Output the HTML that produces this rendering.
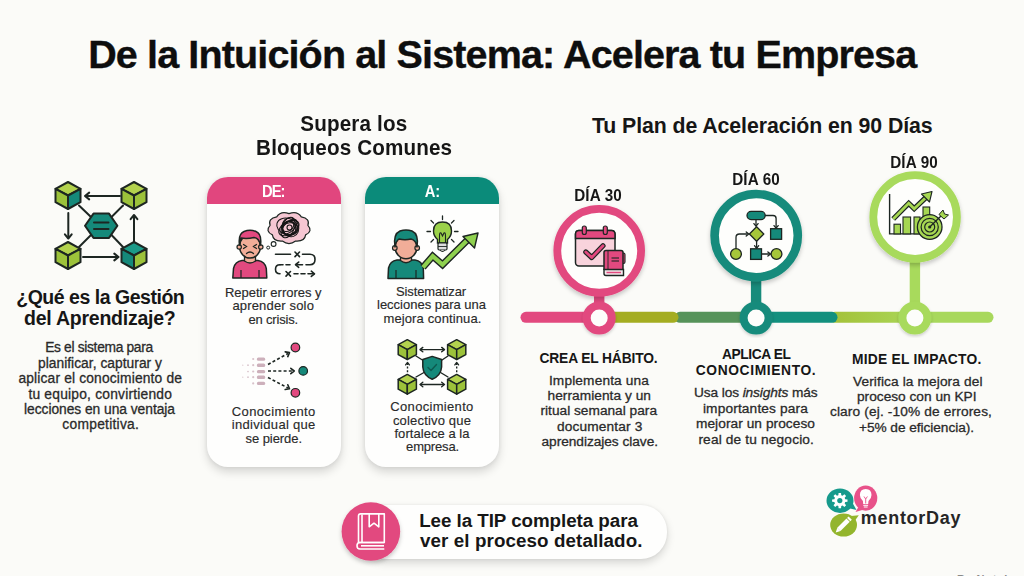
<!DOCTYPE html>
<html><head><meta charset="utf-8">
<style>
html,body{margin:0;padding:0;}
body{width:1024px;height:576px;overflow:hidden;background:#fbfbf8;position:relative;font-family:"Liberation Sans",sans-serif;}
.tx{position:absolute;width:1000px;text-align:center;white-space:nowrap;}
.tx i{font-style:italic;}
.card{position:absolute;top:177px;width:134px;height:290px;border-radius:21px;background:#fefefd;box-shadow:0 5px 10px rgba(0,0,0,0.15),0 0 4px rgba(0,0,0,0.07);overflow:hidden;}
.card .hd{height:27px;}
.pill{position:absolute;left:360px;top:504.5px;width:307px;height:54px;border-radius:26px;background:#fefefd;box-shadow:0 4px 9px rgba(0,0,0,0.15),0 0 3px rgba(0,0,0,0.07);}
svg.ic{position:absolute;left:0;top:0;}
</style></head><body>
<div class="card" style="left:207px"><div class="hd" style="background:#e1467e"></div></div>
<div class="card" style="left:365px"><div class="hd" style="background:#0b8b7a"></div></div>
<div class="pill"></div>
<svg class="ic" width="1024" height="576" viewBox="0 0 1024 576">
<defs><filter id="sh" x="-30%" y="-30%" width="160%" height="160%"><feDropShadow dx="0" dy="2.5" stdDeviation="2.2" flood-color="#000" flood-opacity="0.22"/></filter><filter id="sh2" x="-30%" y="-30%" width="160%" height="160%"><feDropShadow dx="0" dy="1.5" stdDeviation="1.5" flood-color="#000" flood-opacity="0.2"/></filter><linearGradient id="lg1" gradientUnits="userSpaceOnUse" x1="835" y1="0" x2="905" y2="0"><stop offset="0" stop-color="#a4c23a"/><stop offset="1" stop-color="#a9d454"/></linearGradient></defs>
<g stroke="#1d2622" stroke-width="2" fill="none" stroke-linecap="round"><line x1="79" y1="205.5" x2="91" y2="217"/><line x1="123" y1="205.5" x2="111.5" y2="217"/><line x1="79" y1="247" x2="91" y2="235"/><line x1="123" y1="247" x2="111.5" y2="235"/><line x1="120" y1="196" x2="86" y2="196"/><line x1="68.3" y1="213" x2="68.3" y2="237"/><line x1="83" y1="257" x2="117" y2="257"/><line x1="134" y1="242.5" x2="134" y2="217"/></g>
<polyline points="89.2,199.4 85.0,196.0 89.2,192.6" fill="none" stroke="#1d2622" stroke-width="2" stroke-linecap="round" stroke-linejoin="round"/>
<polyline points="71.7,234.3 68.3,238.5 64.9,234.3" fill="none" stroke="#1d2622" stroke-width="2" stroke-linecap="round" stroke-linejoin="round"/>
<polyline points="114.3,253.6 118.5,257.0 114.3,260.4" fill="none" stroke="#1d2622" stroke-width="2" stroke-linecap="round" stroke-linejoin="round"/>
<polyline points="130.6,219.2 134.0,215.0 137.4,219.2" fill="none" stroke="#1d2622" stroke-width="2" stroke-linecap="round" stroke-linejoin="round"/>
<g stroke="#1d2622" stroke-width="2" stroke-linejoin="round"><polygon points="68.0,182.0 80.5,188.8 68.0,195.5 55.5,188.8" fill="#b3d24e"/><polygon points="55.5,188.8 68.0,195.5 68.0,209.0 55.5,202.2" fill="#9cc23a"/><polygon points="68.0,195.5 80.5,188.8 80.5,202.2 68.0,209.0" fill="#15897a"/></g>
<g stroke="#1d2622" stroke-width="2" stroke-linejoin="round"><polygon points="134.0,182.0 146.5,188.8 134.0,195.5 121.5,188.8" fill="#b3d24e"/><polygon points="121.5,188.8 134.0,195.5 134.0,209.0 121.5,202.2" fill="#9cc23a"/><polygon points="134.0,195.5 146.5,188.8 146.5,202.2 134.0,209.0" fill="#9cc23a"/></g>
<g stroke="#1d2622" stroke-width="2" stroke-linejoin="round"><polygon points="68.0,242.0 80.5,248.8 68.0,255.5 55.5,248.8" fill="#b3d24e"/><polygon points="55.5,248.8 68.0,255.5 68.0,269.0 55.5,262.2" fill="#9cc23a"/><polygon points="68.0,255.5 80.5,248.8 80.5,262.2 68.0,269.0" fill="#9cc23a"/></g>
<g stroke="#1d2622" stroke-width="2" stroke-linejoin="round"><polygon points="134.0,242.0 146.5,248.8 134.0,255.5 121.5,248.8" fill="#1b9a88"/><polygon points="121.5,248.8 134.0,255.5 134.0,269.0 121.5,262.2" fill="#15897a"/><polygon points="134.0,255.5 146.5,248.8 146.5,262.2 134.0,269.0" fill="#9cc23a"/></g>
<polygon points="85,225.7 93.5,213.6 109,213.6 117.4,225.7 109,237.9 93.5,237.9" fill="#15897a" stroke="#1d2622" stroke-width="2" stroke-linejoin="round"/>
<g stroke="#1d2622" stroke-width="2" stroke-linecap="round"><line x1="94" y1="222.5" x2="108.5" y2="222.5"/><line x1="94" y1="229" x2="108.5" y2="229"/></g>
<path d="M232.8,278 L233.5,268.5 Q235,261.5 242,260.5 L258,260.5 Q265,261.5 266.3,268.5 L266.8,278 Z" fill="#e2497f" stroke="#1d2622" stroke-width="1.5" stroke-linejoin="round"/>
<path d="M244.5,256 L244.5,261 Q250,265 255.5,261 L255.5,256 Z" fill="#f1ad98" stroke="#1d2622" stroke-width="1.3"/>
<g stroke="#1d2622" stroke-width="1.2"><line x1="241" y1="270" x2="241" y2="278"/><line x1="259" y1="270" x2="259" y2="278"/></g>
<ellipse cx="250" cy="246.5" rx="10.5" ry="11.5" fill="#f1ad98" stroke="#1d2622" stroke-width="1.5"/>
<circle cx="239.2" cy="247" r="2.2" fill="#f1ad98" stroke="#1d2622" stroke-width="1.2"/><circle cx="260.8" cy="247" r="2.2" fill="#f1ad98" stroke="#1d2622" stroke-width="1.2"/>
<path d="M239.5,245 Q238,234 244,231.5 Q250,229 256,231.5 Q262,234 260.5,245 Q259,238 254,237.5 Q247,239 241,238 Q240,241 239.5,245 Z" fill="#e2497f" stroke="#1d2622" stroke-width="1.5" stroke-linejoin="round"/>
<g stroke="#1d2622" stroke-width="1.3" fill="none" stroke-linecap="round"><polyline points="243.5,244.5 246.5,246.5 243.5,248.5"/><polyline points="256.5,244.5 253.5,246.5 256.5,248.5"/><path d="M246.5,253.5 Q250,250.5 253.5,253.5"/></g>
<path d="M289.0,213.6 Q297.4,210.7 301.3,216.9 Q310.3,218.7 307.9,225.3 Q313.2,231.0 305.6,234.9 Q304.8,241.7 295.6,241.1 Q289.0,246.0 282.4,241.1 Q273.2,241.7 272.4,234.9 Q264.8,231.0 270.1,225.3 Q267.7,218.7 276.7,216.9 Q280.6,210.7 289.0,213.6 Z" fill="#f5c6d2" stroke="#1d2622" stroke-width="1.2" stroke-linejoin="round"/>
<g fill="none" stroke="#151515" stroke-width="1.05"><ellipse cx="289.5" cy="228.0" rx="7.2" ry="6.7" transform="rotate(67 289.5 228.0)"/><ellipse cx="287.8" cy="226.4" rx="6.3" ry="4.6" transform="rotate(151 287.8 226.4)"/><ellipse cx="288.9" cy="228.1" rx="11.0" ry="6.4" transform="rotate(151 288.9 228.1)"/><ellipse cx="289.1" cy="228.5" rx="6.8" ry="7.0" transform="rotate(156 289.1 228.5)"/><ellipse cx="289.5" cy="226.7" rx="9.4" ry="4.8" transform="rotate(136 289.5 226.7)"/><ellipse cx="290.1" cy="229.0" rx="6.2" ry="8.0" transform="rotate(85 290.1 229.0)"/><ellipse cx="290.5" cy="227.3" rx="9.6" ry="8.2" transform="rotate(71 290.5 227.3)"/><ellipse cx="287.2" cy="226.4" rx="10.7" ry="8.0" transform="rotate(18 287.2 226.4)"/><ellipse cx="288.0" cy="227.5" rx="10.8" ry="6.2" transform="rotate(113 288.0 227.5)"/><circle cx="289.5" cy="227.5" r="2.5"/></g>
<circle cx="273.6" cy="244" r="2.4" fill="#fff" stroke="#1d2622" stroke-width="1.1"/><circle cx="268.2" cy="247.6" r="1.5" fill="#fff" stroke="#1d2622" stroke-width="1"/>
<g fill="none" stroke="#1d2622" stroke-width="1.6" stroke-linecap="round" stroke-linejoin="round"><line x1="275.5" y1="254.3" x2="290.5" y2="254.3"/><line x1="295" y1="252" x2="299.5" y2="256.6"/><line x1="299.5" y1="252" x2="295" y2="256.6"/><path d="M302.5,254.3 L310,254.3 Q315,254.3 315,259.5 Q315,264.7 310,264.7 L306,264.7"/><line x1="302.5" y1="264.7" x2="296" y2="264.7"/><line x1="290" y1="264.7" x2="286" y2="264.7"/><line x1="283" y1="264.7" x2="280" y2="264.7"/><path d="M280,264.7 Q275.5,264.7 275.5,269.2 Q275.5,273.8 280,273.8"/><line x1="286" y1="271.5" x2="290.5" y2="276.1"/><line x1="290.5" y1="271.5" x2="286" y2="276.1"/><line x1="294" y1="273.8" x2="298" y2="273.8"/><line x1="301" y1="273.8" x2="305" y2="273.8"/><line x1="308" y1="273.8" x2="314" y2="273.8"/></g>
<polyline points="298.7,267.3 295.5,264.7 298.7,262.1" fill="none" stroke="#1d2622" stroke-width="1.6" stroke-linecap="round" stroke-linejoin="round"/>
<polyline points="311.3,271.2 314.5,273.8 311.3,276.4" fill="none" stroke="#1d2622" stroke-width="1.6" stroke-linecap="round" stroke-linejoin="round"/>
<path d="M388,278.4 L388.5,268 Q390,261 397,260 L415,260 Q422,261 423.3,268 L423.6,278.4 Z" fill="#15897a" stroke="#1d2622" stroke-width="1.5" stroke-linejoin="round"/>
<path d="M400.5,256 L400.5,260.5 Q406,265 411.5,260.5 L411.5,256 Z" fill="#f1ad98" stroke="#1d2622" stroke-width="1.3"/>
<g stroke="#1d2622" stroke-width="1.2"><line x1="396" y1="270" x2="396" y2="278"/><line x1="416" y1="270" x2="416" y2="278"/></g>
<ellipse cx="406" cy="247" rx="11" ry="11.8" fill="#f1ad98" stroke="#1d2622" stroke-width="1.5"/>
<circle cx="394.8" cy="248" r="2.3" fill="#f1ad98" stroke="#1d2622" stroke-width="1.2"/><circle cx="417.2" cy="248" r="2.3" fill="#f1ad98" stroke="#1d2622" stroke-width="1.2"/>
<path d="M395,247 Q393,234 400,231 Q406,229 412,231 Q419,234 417,247 Q416,240 411,239 Q405,240.5 399,239 Q396,241 395,247 Z" fill="#15897a" stroke="#1d2622" stroke-width="1.5" stroke-linejoin="round"/>
<path d="M423,267.3 L432.7,256.2 L442.5,264.7 L467.5,240" fill="none" stroke="#1d2622" stroke-width="7" stroke-linejoin="miter" stroke-linecap="butt"/>
<path d="M423,267.3 L432.7,256.2 L442.5,264.7 L467.5,240" fill="none" stroke="#8fd14f" stroke-width="4.2" stroke-linejoin="miter" stroke-linecap="butt"/>
<polygon points="478,233 463,236.5 474.5,248" fill="#8fd14f" stroke="#1d2622" stroke-width="1.4" stroke-linejoin="round"/>
<g stroke="#1d2622" stroke-width="1.3" stroke-linecap="round"><line x1="442.5" y1="216" x2="442.5" y2="219.5"/><line x1="431" y1="220.5" x2="433.5" y2="223"/><line x1="454" y1="220.5" x2="451.5" y2="223"/><line x1="427" y1="231.5" x2="430.5" y2="231.5"/><line x1="458" y1="231.5" x2="454.5" y2="231.5"/><line x1="431" y1="242" x2="433.5" y2="239.5"/><line x1="454" y1="242" x2="451.5" y2="239.5"/></g>
<path d="M442.5,222 Q451.5,222 451.5,231 Q451.5,236 447.5,239.5 L447.5,243 L437.5,243 L437.5,239.5 Q433.5,236 433.5,231 Q433.5,222 442.5,222 Z" fill="#9bd14a" stroke="#1d2622" stroke-width="1.4"/>
<path d="M439.5,243 L439.5,236 Q439.5,232 441,233 L442.5,236 L444,233 Q445.5,232 445.5,236 L445.5,243" fill="none" stroke="#1d2622" stroke-width="1.1"/>
<rect x="438" y="243" width="9" height="7" rx="1.2" fill="#ddd" stroke="#1d2622" stroke-width="1.2"/><line x1="438" y1="246.5" x2="447" y2="246.5" stroke="#1d2622" stroke-width="0.9"/>
<path d="M440,250 Q442.5,253 445,250" fill="#ccc" stroke="#1d2622" stroke-width="1.1"/>
<rect x="256.9" y="357.4" width="8.3" height="3.3" rx="1.5" fill="#cdb0bb"/>
<circle cx="253.2" cy="359" r="1.10" fill="#d8c2ca"/>
<rect x="256.9" y="363.6" width="8.3" height="3.3" rx="1.5" fill="#cdb0bb"/>
<circle cx="253.2" cy="365.2" r="1.10" fill="#d8c2ca"/>
<circle cx="248" cy="365.2" r="0.85" fill="#d8c2ca"/>
<circle cx="242.8" cy="365.2" r="0.60" fill="#d8c2ca"/>
<rect x="256.9" y="369.9" width="8.3" height="3.3" rx="1.5" fill="#cdb0bb"/>
<circle cx="253.2" cy="371.5" r="1.10" fill="#d8c2ca"/>
<circle cx="248" cy="371.5" r="0.85" fill="#d8c2ca"/>
<rect x="256.9" y="375.6" width="8.3" height="3.3" rx="1.5" fill="#cdb0bb"/>
<circle cx="253.2" cy="377.2" r="1.10" fill="#d8c2ca"/>
<circle cx="248" cy="377.2" r="0.85" fill="#d8c2ca"/>
<circle cx="242.8" cy="377.2" r="0.60" fill="#d8c2ca"/>
<rect x="256.9" y="381.8" width="8.3" height="3.3" rx="1.5" fill="#cdb0bb"/>
<circle cx="253.2" cy="383.4" r="1.10" fill="#d8c2ca"/>
<g fill="none" stroke="#1d2622" stroke-width="1.6" stroke-dasharray="3 2.2" stroke-linecap="butt"><line x1="268" y1="364.5" x2="288" y2="353.5"/><line x1="268" y1="371" x2="292.5" y2="371"/><line x1="268" y1="377.5" x2="288" y2="388"/></g>
<polyline points="285.2,351.9 289.5,352.6 287.8,356.6" fill="none" stroke="#1d2622" stroke-width="1.6" stroke-linecap="round" stroke-linejoin="round"/>
<polyline points="290.8,368.3 294.2,371.0 290.8,373.7" fill="none" stroke="#1d2622" stroke-width="1.6" stroke-linecap="round" stroke-linejoin="round"/>
<polyline points="287.8,384.8 289.5,388.8 285.2,389.5" fill="none" stroke="#1d2622" stroke-width="1.6" stroke-linecap="round" stroke-linejoin="round"/>
<circle cx="295.4" cy="347.5" r="4.3" fill="#e2497f" stroke="#1d2622" stroke-width="1.2"/><circle cx="303.2" cy="370.9" r="4.3" fill="#15897a" stroke="#1d2622" stroke-width="1.2"/><circle cx="295.4" cy="392.8" r="4.3" fill="#e2497f" stroke="#1d2622" stroke-width="1.2"/>
<g stroke="#1d2622" stroke-width="1.4" fill="none" stroke-linecap="round"><line x1="416" y1="356" x2="424" y2="361"/><line x1="448" y1="356" x2="440.5" y2="361"/><line x1="416" y1="377" x2="424" y2="372.5"/><line x1="448" y1="377" x2="440.5" y2="372.5"/><line x1="421" y1="349.6" x2="443.5" y2="349.6"/><line x1="421" y1="384.5" x2="443.5" y2="384.5"/></g>
<g stroke="#1d2622" stroke-width="1.4" fill="none" stroke-dasharray="2 1.6"><line x1="407.5" y1="363" x2="407.5" y2="373"/><line x1="456.7" y1="363" x2="456.7" y2="373"/></g>
<polyline points="422.8,351.8 420.0,349.6 422.8,347.4" fill="none" stroke="#1d2622" stroke-width="1.4" stroke-linecap="round" stroke-linejoin="round"/>
<polyline points="441.7,347.4 444.5,349.6 441.7,351.8" fill="none" stroke="#1d2622" stroke-width="1.4" stroke-linecap="round" stroke-linejoin="round"/>
<polyline points="422.8,386.7 420.0,384.5 422.8,382.3" fill="none" stroke="#1d2622" stroke-width="1.4" stroke-linecap="round" stroke-linejoin="round"/>
<polyline points="441.7,382.3 444.5,384.5 441.7,386.7" fill="none" stroke="#1d2622" stroke-width="1.4" stroke-linecap="round" stroke-linejoin="round"/>
<polyline points="405.6,364.9 407.5,362.5 409.4,364.9" fill="none" stroke="#1d2622" stroke-width="1.3" stroke-linecap="round" stroke-linejoin="round"/>
<polyline points="454.8,364.9 456.7,362.5 458.6,364.9" fill="none" stroke="#1d2622" stroke-width="1.3" stroke-linecap="round" stroke-linejoin="round"/>
<g stroke="#1d2622" stroke-width="1.5" stroke-linejoin="round"><polygon points="407.3,339.7 416.4,344.7 407.3,349.6 398.2,344.7" fill="#b3d24e"/><polygon points="398.2,344.7 407.3,349.6 407.3,359.5 398.2,354.6" fill="#9cc23a"/><polygon points="407.3,349.6 416.4,344.7 416.4,354.6 407.3,359.5" fill="#9cc23a"/></g>
<g stroke="#1d2622" stroke-width="1.5" stroke-linejoin="round"><polygon points="456.7,339.7 465.8,344.7 456.7,349.6 447.6,344.7" fill="#b3d24e"/><polygon points="447.6,344.7 456.7,349.6 456.7,359.5 447.6,354.6" fill="#9cc23a"/><polygon points="456.7,349.6 465.8,344.7 465.8,354.6 456.7,359.5" fill="#9cc23a"/></g>
<g stroke="#1d2622" stroke-width="1.5" stroke-linejoin="round"><polygon points="407.3,374.4 416.4,379.4 407.3,384.3 398.2,379.4" fill="#b3d24e"/><polygon points="398.2,379.4 407.3,384.3 407.3,394.2 398.2,389.2" fill="#9cc23a"/><polygon points="407.3,384.3 416.4,379.4 416.4,389.2 407.3,394.2" fill="#9cc23a"/></g>
<g stroke="#1d2622" stroke-width="1.5" stroke-linejoin="round"><polygon points="456.7,374.4 465.8,379.4 456.7,384.3 447.6,379.4" fill="#b3d24e"/><polygon points="447.6,379.4 456.7,384.3 456.7,394.2 447.6,389.2" fill="#9cc23a"/><polygon points="456.7,384.3 465.8,379.4 465.8,389.2 456.7,394.2" fill="#9cc23a"/></g>
<path d="M432.2,356.4 L441.6,359.5 L441.6,367 Q441,375.5 432.2,379.3 Q423.4,375.5 422.8,367 L422.8,359.5 Z" fill="#15897a" stroke="#1d2622" stroke-width="1.5" stroke-linejoin="round"/>
<polyline points="428,367.5 431,370.5 436.5,364.5" fill="none" stroke="#0d5a50" stroke-width="1.4" stroke-linecap="round" stroke-linejoin="round"/>
<g stroke-linecap="round" stroke-width="11" fill="none"><line x1="680" y1="317.3" x2="750" y2="317.3" stroke="#56935a"/><line x1="600" y1="317.3" x2="673" y2="317.3" stroke="#a4ad21"/><line x1="835" y1="317.3" x2="910" y2="317.3" stroke="url(#lg1)"/><line x1="760" y1="317.3" x2="832" y2="317.3" stroke="#12907e"/><line x1="920" y1="317.3" x2="988" y2="317.3" stroke="#a8d85c"/><line x1="526" y1="317.3" x2="595" y2="317.3" stroke="#e2497f"/></g>
<rect x="594.0" y="290" width="10.4" height="15.0" fill="#e2497f"/>
<circle cx="599.2" cy="318" r="12.5" fill="#fdfdfb" stroke="#e2497f" stroke-width="8" filter="url(#sh2)"/>
<rect x="750.9" y="278" width="10.4" height="27.0" fill="#178b7b"/>
<circle cx="756.1" cy="318" r="12.5" fill="#fdfdfb" stroke="#178b7b" stroke-width="8" filter="url(#sh2)"/>
<rect x="909.7" y="259" width="10.4" height="46.0" fill="#a8da5c"/>
<circle cx="914.9" cy="318" r="12.5" fill="#fdfdfb" stroke="#a8da5c" stroke-width="8" filter="url(#sh2)"/>
<circle cx="599.2" cy="250.8" r="41.9" fill="#fefefc" stroke="#e2497f" stroke-width="7.8" filter="url(#sh)"/>
<circle cx="756.2" cy="235.6" r="41.6" fill="#fefefc" stroke="#178b7b" stroke-width="8.6" filter="url(#sh)"/>
<circle cx="915.1" cy="217" r="41.8" fill="#fefefc" stroke="#a8da5c" stroke-width="7.8" filter="url(#sh)"/>
<rect x="575.5" y="230.5" width="39.5" height="35.5" rx="3.5" fill="#f8d3dc" stroke="#1d2622" stroke-width="1.5"/>
<path d="M575.5,238.5 L575.5,234 Q575.5,230.5 579,230.5 L611.5,230.5 Q615,230.5 615,234 L615,238.5 Z" fill="#e2497f" stroke="#1d2622" stroke-width="1.5"/>
<rect x="582.3" y="226" width="4" height="8.5" rx="2" fill="#e2497f" stroke="#1d2622" stroke-width="1.2"/><rect x="603.3" y="226" width="4" height="8.5" rx="2" fill="#e2497f" stroke="#1d2622" stroke-width="1.2"/>
<polyline points="585.8,252 591.7,257.5 603,245.8" fill="none" stroke="#1d2622" stroke-width="5.2" stroke-linecap="round" stroke-linejoin="round"/>
<polyline points="585.8,252 591.7,257.5 603,245.8" fill="none" stroke="#e2497f" stroke-width="2.8" stroke-linecap="round" stroke-linejoin="round"/>
<rect x="621.5" y="253" width="3.5" height="10.5" rx="1.5" fill="#e2497f" stroke="#1d2622" stroke-width="1.1"/>
<path d="M604,270 L604,252.5 Q604,250.5 606,250.5 L621,250.5 Q623,250.5 623,252.5 L623,270" fill="#e2497f" stroke="#1d2622" stroke-width="1.5"/>
<path d="M604,269.5 L623.5,269.5 L623.5,275.5 L606,275.5 Q604,275.5 604,273.5 Z" fill="#f3e9ec" stroke="#1d2622" stroke-width="1.4"/>
<line x1="606.5" y1="272.5" x2="621" y2="272.5" stroke="#e2497f" stroke-width="1.5"/>
<line x1="608" y1="251" x2="608" y2="269.5" stroke="#1d2622" stroke-width="0.9"/>
<g stroke="#1d2622" stroke-width="1.1"><line x1="611.5" y1="258" x2="619" y2="258"/><line x1="611.5" y1="261" x2="619" y2="261"/></g>
<g fill="none" stroke="#1d2622" stroke-width="1.3" stroke-linecap="round" stroke-linejoin="round"><line x1="756" y1="219.6" x2="756" y2="225.5"/><path d="M765,215.5 L773,215.5 Q776.1,215.5 776.1,218.5 L776.1,227.5"/><path d="M736,248.5 L736,237.5 Q736,234 739.5,234 L747.5,234"/><line x1="756.6" y1="241" x2="756.6" y2="247.5"/><line x1="761.5" y1="254" x2="769.5" y2="254"/></g>
<polyline points="758.1,223.6 756.0,226.2 753.9,223.6" fill="none" stroke="#1d2622" stroke-width="1.3" stroke-linecap="round" stroke-linejoin="round"/>
<polyline points="778.2,225.6 776.1,228.2 774.0,225.6" fill="none" stroke="#1d2622" stroke-width="1.3" stroke-linecap="round" stroke-linejoin="round"/>
<polyline points="746.2,231.9 748.8,234.0 746.2,236.1" fill="none" stroke="#1d2622" stroke-width="1.3" stroke-linecap="round" stroke-linejoin="round"/>
<polyline points="758.7,245.7 756.6,248.3 754.5,245.7" fill="none" stroke="#1d2622" stroke-width="1.3" stroke-linecap="round" stroke-linejoin="round"/>
<polyline points="767.9,251.9 770.5,254.0 767.9,256.1" fill="none" stroke="#1d2622" stroke-width="1.3" stroke-linecap="round" stroke-linejoin="round"/>
<rect x="747" y="211.4" width="18.2" height="8.2" rx="4.1" fill="#15897a" stroke="#1d2622" stroke-width="1.3"/>
<polygon points="756.6,226.8 763.8,234 756.6,241.2 749.4,234" fill="#a6c63a" stroke="#1d2622" stroke-width="1.3" stroke-linejoin="round"/>
<rect x="770.6" y="228.7" width="11" height="10.6" fill="#15897a" stroke="#1d2622" stroke-width="1.3"/>
<rect x="750.6" y="248.8" width="10.9" height="10.6" fill="#15897a" stroke="#1d2622" stroke-width="1.3"/>
<circle cx="736" cy="254" r="5.4" fill="#a6c63a" stroke="#1d2622" stroke-width="1.3"/><circle cx="776.5" cy="254" r="5.4" fill="#a6c63a" stroke="#1d2622" stroke-width="1.3"/>
<polyline points="889.6,194 889.6,233.9 921,233.9" fill="none" stroke="#1d2622" stroke-width="1.4"/>
<rect x="894" y="224.2" width="6.5" height="9.7" fill="#a6d752" stroke="#1d2622" stroke-width="1.1"/>
<rect x="903" y="217" width="7.6" height="16.9" fill="#a6d752" stroke="#1d2622" stroke-width="1.1"/>
<rect x="914" y="217" width="6.0" height="16.9" fill="#a6d752" stroke="#1d2622" stroke-width="1.1"/>
<rect x="923" y="207" width="6.7" height="26.9" fill="#a6d752" stroke="#1d2622" stroke-width="1.1"/>
<polyline points="893.2,219 908.7,203.3 914.2,208.7 927.5,196" fill="none" stroke="#1d2622" stroke-width="5.2" stroke-linejoin="miter"/>
<polyline points="893.2,219 908.7,203.3 914.2,208.7 927.5,196" fill="none" stroke="#a6d752" stroke-width="2.8" stroke-linejoin="miter"/>
<polygon points="932,191.5 921.5,194 929.5,202" fill="#a6d752" stroke="#1d2622" stroke-width="1.1" stroke-linejoin="round"/>
<circle cx="929.7" cy="227" r="12.3" fill="#a6d752" stroke="#1d2622" stroke-width="1.3"/>
<circle cx="929.7" cy="227" r="8.6" fill="#a6d752" stroke="#1d2622" stroke-width="1.2"/>
<circle cx="929.7" cy="227" r="5" fill="#a6d752" stroke="#1d2622" stroke-width="1.2"/>
<circle cx="929.7" cy="227" r="1.6" fill="#1d2622"/>
<line x1="929.7" y1="227" x2="942" y2="215" stroke="#1d2622" stroke-width="1.3"/>
<polygon points="939,214.5 943,210 944.5,214 948.5,215 944,219" fill="#a6d752" stroke="#1d2622" stroke-width="1"/>
<circle cx="370.9" cy="531.5" r="29.3" fill="#e2497f" filter="url(#sh)"/>
<g fill="none" stroke="#fff" stroke-width="1.6" stroke-linejoin="round"><path d="M358.5,542.5 L358.5,516 Q358.5,513.9 360.6,513.9 L384.3,513.9 L384.3,542.5 Z"/><line x1="362" y1="514.5" x2="362" y2="542.5"/><path d="M384.3,542.5 L360,542.5 Q357,542.5 357,545.7 Q357,549 360,549 L384.3,549"/><line x1="361" y1="545.8" x2="384" y2="545.8"/><polyline points="369.2,514 369.2,526.8 374,523.2 378.8,526.8 378.8,514"/></g>
<ellipse cx="840" cy="500.7" rx="13.5" ry="12.2" fill="#169a8c"/><path d="M848,508 L856.5,510 L852,502 Z" fill="#169a8c"/>
<ellipse cx="865.7" cy="498.1" rx="11.6" ry="12.6" fill="#e8528a"/><path d="M859,506 L855.5,512 L864,509.5 Z" fill="#e8528a"/>
<ellipse cx="843.6" cy="525" rx="13.4" ry="11.6" fill="#93b52d"/><path d="M851,516 L858.8,515.3 L854,522 Z" fill="#93b52d"/>
<polygon points="845.21,499.15 847.50,499.38 847.50,501.82 845.21,502.05 844.65,503.40 846.11,505.18 844.38,506.91 842.60,505.45 841.25,506.01 841.02,508.30 838.58,508.30 838.35,506.01 837.00,505.45 835.22,506.91 833.49,505.18 834.95,503.40 834.39,502.05 832.10,501.82 832.10,499.38 834.39,499.15 834.95,497.80 833.49,496.02 835.22,494.29 837.00,495.75 838.35,495.19 838.58,492.90 841.02,492.90 841.25,495.19 842.60,495.75 844.38,494.29 846.11,496.02 844.65,497.80" fill="#fff"/><circle cx="839.8" cy="500.6" r="2.6" fill="#169a8c"/>
<path d="M865.7,489 Q871.5,489 871.5,495 Q871.5,498.5 868.5,501 L868.2,504 L863.2,504 L862.9,501 Q859.9,498.5 859.9,495 Q859.9,489 865.7,489 Z" fill="#fff"/>
<g stroke="#e8528a" stroke-width="0.9" fill="none"><polyline points="864,496.5 865.7,499 867.4,496.5"/><line x1="865.7" y1="499" x2="865.7" y2="503.5"/></g>
<g stroke="#fff" stroke-width="1"><line x1="863.3" y1="505.3" x2="868.1" y2="505.3"/><line x1="863.8" y1="507" x2="867.6" y2="507"/></g>
<g transform="rotate(-45 843.5 524.8)"><rect x="837" y="522.5" width="13" height="4.6" fill="#fff"/><polygon points="837,522.5 832.5,524.8 837,527.1" fill="#fff"/><rect x="850.8" y="522.5" width="2.2" height="4.6" fill="#fff"/></g>
</svg>
<div class="tx" id="t0" style="left:2.25px;top:30.61px;font-size:39.5px;line-height:47.4px;font-weight:700;color:#0e0e0e;letter-spacing:-0.862px;-webkit-text-stroke:0.35px #0e0e0e">De la Intuición al Sistema: Acelera tu Empresa</div>
<div class="tx" id="t1" style="left:-146.50px;top:112.05px;font-size:21.5px;line-height:25.8px;font-weight:700;color:#161616;letter-spacing:0.170px"><span style="display:inline-block;transform:scaleX(0.96)">Supera los</span></div>
<div class="tx" id="t2" style="left:-146.00px;top:135.55px;font-size:21.5px;line-height:25.8px;font-weight:700;color:#161616;letter-spacing:0.153px"><span style="display:inline-block;transform:scaleX(0.96)">Bloqueos Comunes</span></div>
<div class="tx" id="t3" style="left:262.25px;top:113.54px;font-size:21.3px;line-height:25.56px;font-weight:700;color:#161616;letter-spacing:-0.079px">Tu Plan de Aceleración en 90 Días</div>
<div class="tx" id="t4" style="left:-399.75px;top:285.54px;font-size:19.5px;line-height:23.4px;font-weight:700;color:#161616;letter-spacing:-0.478px">¿Qué es la Gestión</div>
<div class="tx" id="t5" style="left:-400.25px;top:306.84px;font-size:19.5px;line-height:23.4px;font-weight:700;color:#161616;letter-spacing:-0.235px">del Aprendizaje?</div>
<div class="tx" id="t6" style="left:-401.00px;top:340.34px;font-size:13.8px;line-height:16.56px;font-weight:400;color:#2a2a2a;letter-spacing:-0.323px;-webkit-text-stroke:0.3px #2a2a2a">Es el sistema para</div>
<div class="tx" id="t7" style="left:-400.00px;top:355.74px;font-size:13.8px;line-height:16.56px;font-weight:400;color:#2a2a2a;letter-spacing:0.026px;-webkit-text-stroke:0.3px #2a2a2a">planificar, capturar y</div>
<div class="tx" id="t8" style="left:-399.75px;top:371.14px;font-size:13.8px;line-height:16.56px;font-weight:400;color:#2a2a2a;letter-spacing:0.159px;-webkit-text-stroke:0.3px #2a2a2a">aplicar el conocimiento de</div>
<div class="tx" id="t9" style="left:-399.75px;top:386.54px;font-size:13.8px;line-height:16.56px;font-weight:400;color:#2a2a2a;letter-spacing:0.212px;-webkit-text-stroke:0.3px #2a2a2a">tu equipo, convirtiendo</div>
<div class="tx" id="t10" style="left:-400.50px;top:401.94px;font-size:13.8px;line-height:16.56px;font-weight:400;color:#2a2a2a;letter-spacing:-0.038px;-webkit-text-stroke:0.3px #2a2a2a">lecciones en una ventaja</div>
<div class="tx" id="t11" style="left:-399.25px;top:417.34px;font-size:13.8px;line-height:16.56px;font-weight:400;color:#2a2a2a;letter-spacing:0.262px;-webkit-text-stroke:0.3px #2a2a2a">competitiva.</div>
<div class="tx" id="t12" style="left:-226.75px;top:182.26px;font-size:16px;line-height:19.2px;font-weight:700;color:#ffffff;letter-spacing:-1.006px"><span style="display:inline-block;transform:scaleX(0.92)">DE:</span></div>
<div class="tx" id="t13" style="left:-67.75px;top:182.26px;font-size:16px;line-height:19.2px;font-weight:700;color:#ffffff;letter-spacing:-0.035px"><span style="display:inline-block;transform:scaleX(0.92)">A:</span></div>
<div class="tx" id="t14" style="left:-226.75px;top:284.50px;font-size:13px;line-height:15.6px;font-weight:400;color:#2a2a2a;letter-spacing:-0.019px;-webkit-text-stroke:0.15px #2a2a2a">Repetir errores y</div>
<div class="tx" id="t15" style="left:-226.75px;top:298.10px;font-size:13px;line-height:15.6px;font-weight:400;color:#2a2a2a;letter-spacing:0.167px;-webkit-text-stroke:0.15px #2a2a2a">aprender solo</div>
<div class="tx" id="t16" style="left:-226.75px;top:311.70px;font-size:13px;line-height:15.6px;font-weight:400;color:#2a2a2a;letter-spacing:-0.199px;-webkit-text-stroke:0.15px #2a2a2a">en crisis.</div>
<div class="tx" id="t17" style="left:-226.25px;top:403.80px;font-size:13px;line-height:15.6px;font-weight:400;color:#2a2a2a;letter-spacing:0.365px;-webkit-text-stroke:0.15px #2a2a2a">Conocimiento</div>
<div class="tx" id="t18" style="left:-226.25px;top:417.20px;font-size:13px;line-height:15.6px;font-weight:400;color:#2a2a2a;letter-spacing:0.307px;-webkit-text-stroke:0.15px #2a2a2a">individual que</div>
<div class="tx" id="t19" style="left:-226.25px;top:430.60px;font-size:13px;line-height:15.6px;font-weight:400;color:#2a2a2a;letter-spacing:-0.066px;-webkit-text-stroke:0.15px #2a2a2a">se pierde.</div>
<div class="tx" id="t20" style="left:-69.00px;top:283.50px;font-size:13px;line-height:15.6px;font-weight:400;color:#2a2a2a;letter-spacing:-0.138px;-webkit-text-stroke:0.15px #2a2a2a">Sistematizar</div>
<div class="tx" id="t21" style="left:-68.50px;top:297.00px;font-size:13px;line-height:15.6px;font-weight:400;color:#2a2a2a;letter-spacing:-0.008px;-webkit-text-stroke:0.15px #2a2a2a">lecciones para una</div>
<div class="tx" id="t22" style="left:-67.50px;top:310.50px;font-size:13px;line-height:15.6px;font-weight:400;color:#2a2a2a;letter-spacing:0.126px;-webkit-text-stroke:0.15px #2a2a2a">mejora continua.</div>
<div class="tx" id="t23" style="left:-68.00px;top:399.40px;font-size:13px;line-height:15.6px;font-weight:400;color:#2a2a2a;letter-spacing:0.320px;-webkit-text-stroke:0.15px #2a2a2a">Conocimiento</div>
<div class="tx" id="t24" style="left:-68.00px;top:412.50px;font-size:13px;line-height:15.6px;font-weight:400;color:#2a2a2a;letter-spacing:0.177px;-webkit-text-stroke:0.15px #2a2a2a">colectivo que</div>
<div class="tx" id="t25" style="left:-68.00px;top:425.60px;font-size:13px;line-height:15.6px;font-weight:400;color:#2a2a2a;letter-spacing:0.044px;-webkit-text-stroke:0.15px #2a2a2a">fortalece a la</div>
<div class="tx" id="t26" style="left:-67.50px;top:438.70px;font-size:13px;line-height:15.6px;font-weight:400;color:#2a2a2a;letter-spacing:-0.170px;-webkit-text-stroke:0.15px #2a2a2a">empresa.</div>
<div class="tx" id="t27" style="left:98.50px;top:186.06px;font-size:16px;line-height:19.2px;font-weight:700;color:#161616;letter-spacing:0.146px"><span style="display:inline-block;transform:scaleX(0.95)">DÍA 30</span></div>
<div class="tx" id="t28" style="left:256.50px;top:170.26px;font-size:16px;line-height:19.2px;font-weight:700;color:#161616;letter-spacing:0.146px"><span style="display:inline-block;transform:scaleX(0.95)">DÍA 60</span></div>
<div class="tx" id="t29" style="left:414.50px;top:152.66px;font-size:16px;line-height:19.2px;font-weight:700;color:#161616;letter-spacing:0.146px"><span style="display:inline-block;transform:scaleX(0.95)">DÍA 90</span></div>
<div class="tx" id="t30" style="left:98.50px;top:350.64px;font-size:13.8px;line-height:16.56px;font-weight:700;color:#161616;letter-spacing:-0.133px">CREA EL HÁBITO.</div>
<div class="tx" id="t31" style="left:99.00px;top:372.63px;font-size:13.7px;line-height:16.44px;font-weight:400;color:#2a2a2a;letter-spacing:0.142px;-webkit-text-stroke:0.3px #2a2a2a">Implementa una</div>
<div class="tx" id="t32" style="left:99.25px;top:387.93px;font-size:13.7px;line-height:16.44px;font-weight:400;color:#2a2a2a;letter-spacing:0.053px;-webkit-text-stroke:0.3px #2a2a2a">herramienta y un</div>
<div class="tx" id="t33" style="left:98.75px;top:403.23px;font-size:13.7px;line-height:16.44px;font-weight:400;color:#2a2a2a;letter-spacing:0.005px;-webkit-text-stroke:0.3px #2a2a2a">ritual semanal para</div>
<div class="tx" id="t34" style="left:99.75px;top:418.53px;font-size:13.7px;line-height:16.44px;font-weight:400;color:#2a2a2a;letter-spacing:0.164px;-webkit-text-stroke:0.3px #2a2a2a">documentar 3</div>
<div class="tx" id="t35" style="left:99.75px;top:433.83px;font-size:13.7px;line-height:16.44px;font-weight:400;color:#2a2a2a;letter-spacing:-0.037px;-webkit-text-stroke:0.3px #2a2a2a">aprendizajes clave.</div>
<div class="tx" id="t36" style="left:256.25px;top:346.74px;font-size:13.8px;line-height:16.56px;font-weight:700;color:#161616;letter-spacing:-0.415px">APLICA EL</div>
<div class="tx" id="t37" style="left:256.00px;top:362.74px;font-size:13.8px;line-height:16.56px;font-weight:700;color:#161616;letter-spacing:0.631px">CONOCIMIENTO.</div>
<div class="tx" id="t38" style="left:255.75px;top:385.33px;font-size:13.7px;line-height:16.44px;font-weight:400;color:#2a2a2a;letter-spacing:-0.106px;-webkit-text-stroke:0.3px #2a2a2a">Usa los <i>insights</i> más</div>
<div class="tx" id="t39" style="left:255.50px;top:400.83px;font-size:13.7px;line-height:16.44px;font-weight:400;color:#2a2a2a;letter-spacing:0.153px;-webkit-text-stroke:0.3px #2a2a2a">importantes para</div>
<div class="tx" id="t40" style="left:255.50px;top:416.43px;font-size:13.7px;line-height:16.44px;font-weight:400;color:#2a2a2a;letter-spacing:0.063px;-webkit-text-stroke:0.3px #2a2a2a">mejorar un proceso</div>
<div class="tx" id="t41" style="left:256.25px;top:432.03px;font-size:13.7px;line-height:16.44px;font-weight:400;color:#2a2a2a;letter-spacing:0.160px;-webkit-text-stroke:0.3px #2a2a2a">real de tu negocio.</div>
<div class="tx" id="t42" style="left:416.75px;top:351.64px;font-size:13.8px;line-height:16.56px;font-weight:700;color:#161616;letter-spacing:0.236px">MIDE EL IMPACTO.</div>
<div class="tx" id="t43" style="left:417.75px;top:373.63px;font-size:13.7px;line-height:16.44px;font-weight:400;color:#2a2a2a;letter-spacing:0.117px;-webkit-text-stroke:0.3px #2a2a2a">Verifica la mejora del</div>
<div class="tx" id="t44" style="left:416.75px;top:388.93px;font-size:13.7px;line-height:16.44px;font-weight:400;color:#2a2a2a;letter-spacing:0.002px;-webkit-text-stroke:0.3px #2a2a2a">proceso con un KPI</div>
<div class="tx" id="t45" style="left:411.00px;top:404.23px;font-size:13.7px;line-height:16.44px;font-weight:400;color:#2a2a2a;letter-spacing:0.145px;-webkit-text-stroke:0.3px #2a2a2a">claro (ej. -10% de errores,</div>
<div class="tx" id="t46" style="left:416.50px;top:419.53px;font-size:13.7px;line-height:16.44px;font-weight:400;color:#2a2a2a;letter-spacing:-0.057px;-webkit-text-stroke:0.3px #2a2a2a">+5% de eficiencia).</div>
<div class="tx" id="t47" style="left:28.50px;top:509.91px;font-size:18.8px;line-height:22.56px;font-weight:700;color:#161616;letter-spacing:-0.054px">Lee la TIP completa para</div>
<div class="tx" id="t48" style="left:31.25px;top:530.21px;font-size:18.8px;line-height:22.56px;font-weight:700;color:#161616;letter-spacing:0.094px">ver el proceso detallado.</div>
<div class="tx" id="t49" style="left:411.00px;top:508.46px;font-size:18px;line-height:21.6px;font-weight:700;color:#262626;letter-spacing:0.747px">mentorDay</div>
<div style="position:absolute;left:957px;top:572.5px;font-size:11px;line-height:13px;font-weight:700;color:#8a8a8a;white-space:nowrap;letter-spacing:0.8px">Ra NotebookLM</div>
</body></html>
